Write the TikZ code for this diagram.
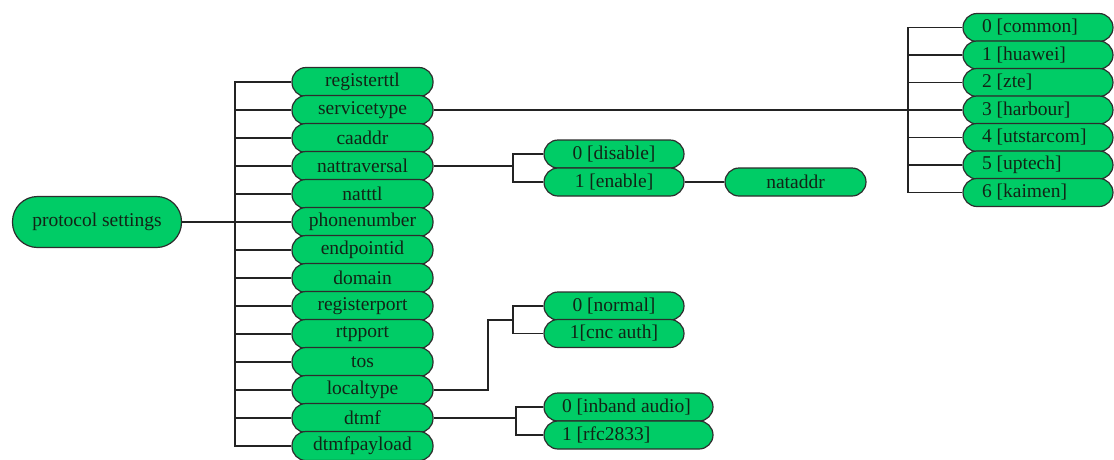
\documentclass[tikz,border=0pt]{standalone}
\usepackage{fontspec}
\setmainfont{Liberation Serif}
\definecolor{pillgreen}{RGB}{0,204,102}
\definecolor{pilledge}{RGB}{45,45,45}
\definecolor{pilltext}{RGB}{18,36,22}
\definecolor{wire}{RGB}{35,35,35}
\tikzset{
  pill/.style={draw=pilledge, fill=pillgreen, line width=1.2pt, rectangle,
    rounded corners=14pt, minimum height=28pt, inner sep=0pt, text=pilltext,
    font=\fontsize{19.5}{22}\selectfont},
  mainpill/.style={pill, minimum width=141pt, minimum height=29pt},
  rightpill/.style={pill, minimum width=150pt},
  midpill/.style={pill, minimum width=140pt},
  widepill/.style={pill, minimum width=169pt},
  rootpill/.style={pill, minimum width=169pt, minimum height=51pt, rounded corners=25pt},
  wireline/.style={draw=wire, line width=1.2pt}
}
\newcommand{\lefttext}[2]{\makebox[#1][l]{#2}}
\begin{document}
\begin{tikzpicture}[x=1pt,y=-1pt]
\useasboundingbox (0,0) rectangle (1114,459);
\clip (0,0) rectangle (1114,459);

% root
\node[rootpill] (root) at (97,222) {protocol settings};

% main column
\foreach \nm/\txt [count=\i from 0] in {
  registerttl/registerttl, servicetype/servicetype, caaddr/caaddr,
  nattraversal/nattraversal, natttl/natttl, phonenumber/phonenumber,
  endpointid/endpointid, domain/domain, registerport/registerport,
  rtpport/rtpport, tos/tos, localtype/localtype, dtmf/dtmf,
  dtmfpayload/dtmfpayload}
  \node[mainpill] (\nm) at (362.5,82+28*\i) {\txt};

% right column (servicetype values)
\foreach \nm/\txt [count=\k from 0] in {
  common/{0 [common]}, huawei/{1 [huawei]}, zte/{2 [zte]},
  harbour/{3 [harbour]}, utstarcom/{4 [utstarcom]}, uptech/{5 [uptech]},
  kaimen/{6 [kaimen]}}
  \node[rightpill] (\nm) at (1038,27.5+27.5*\k) {\lefttext{112pt}{\txt}};

% nattraversal values
\node[midpill] (disable) at (614,154) {0 [disable]};
\node[midpill] (enable) at (614,182) {1 [enable]};
\node[midpill, minimum width=141pt] (nataddr) at (795.5,182) {nataddr};

% localtype values
\node[midpill] (normal) at (614,306) {0 [normal]};
\node[midpill] (cncauth) at (614,333.5) {1[cnc auth]};

% dtmf values
\node[widepill] (inband) at (628.5,407) {\lefttext{133pt}{0 [inband audio]}};
\node[widepill] (rfc) at (628.5,435) {\lefttext{133pt}{1 [rfc2833]}};

% bus coordinates
\coordinate (mb) at (235,0);
\coordinate (rb) at (908,0);
\coordinate (nb) at (513,0);
\coordinate (lb) at (513,0);
\coordinate (lk) at (488,320);
\coordinate (db) at (516,0);

% root to main bus
\draw[wireline] (root.east) -- (root.east -| mb);
\draw[wireline] (registerttl.west) -- (registerttl.west -| mb) -- (dtmfpayload.west -| mb) -- (dtmfpayload.west);
\foreach \nm in {servicetype,caaddr,nattraversal,natttl,phonenumber,endpointid,domain,registerport,rtpport,tos,localtype,dtmf}
  \draw[wireline] (\nm.west) -- (\nm.west -| mb);

% servicetype branch
\draw[wireline] (servicetype.east) -- (servicetype.east -| rb);
\draw[wireline] (common.west) -- (common.west -| rb) -- (kaimen.west -| rb) -- (kaimen.west);
\foreach \nm in {huawei,zte,harbour,utstarcom,uptech}
  \draw[wireline] (\nm.west) -- (\nm.west -| rb);

% nattraversal branch
\draw[wireline] (nattraversal.east) -- (nattraversal.east -| nb);
\draw[wireline] (disable.west) -- (disable.west -| nb) -- (enable.west -| nb) -- (enable.west);
\draw[wireline] (enable.east) -- (nataddr.west);

% localtype branch
\draw[wireline] (localtype.east) -| (lk) -- (lk -| lb);
\draw[wireline] (normal.west) -- (normal.west -| lb) -- (cncauth.west -| lb) -- (cncauth.west);

% dtmf branch
\draw[wireline] (dtmf.east) -- (dtmf.east -| db);
\draw[wireline] (inband.west) -- (inband.west -| db) -- (rfc.west -| db) -- (rfc.west);
\end{tikzpicture}
\end{document}
